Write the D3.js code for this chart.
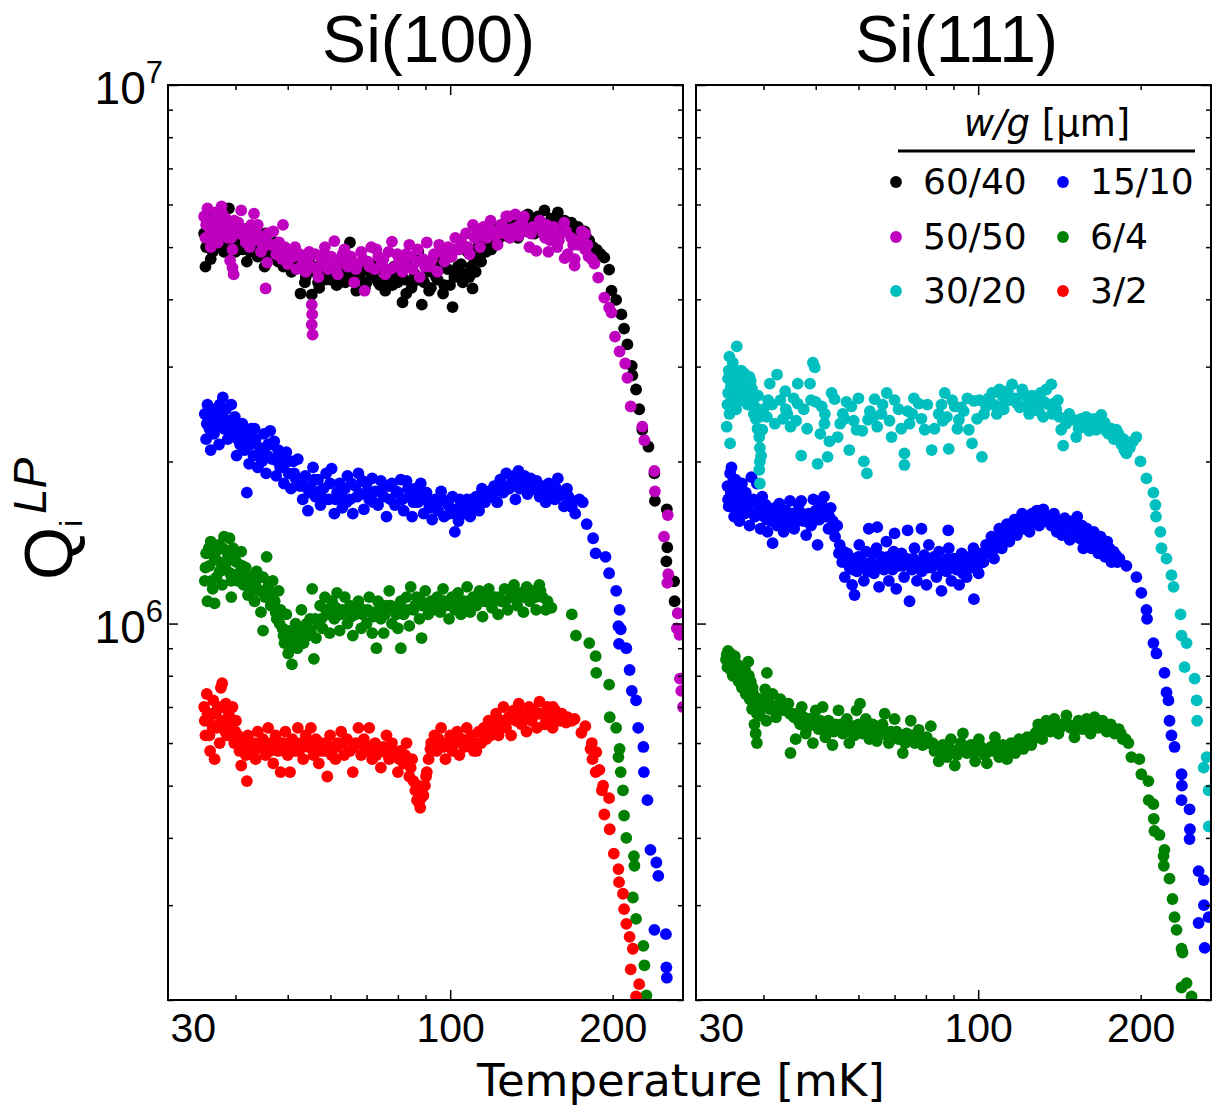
<!DOCTYPE html>
<html>
<head>
<meta charset="utf-8">
<script src="https://cdn.jsdelivr.net/npm/d3@7"></script>
<style>
  html, body { margin: 0; padding: 0; background: #fff; }
  svg { display: block; }
</style>
</head>
<body>
<svg id="chart" width="1215" height="1109"></svg>
<script>
// Internal quality factor Qi (low power) vs temperature, in units of 10^6.
// Each series: [temperature in mK, Qi / 1e6]

// ---- Si(100) ----
const si100_60_40 = [
  [35.0,5.3],[35.2,4.6],[35.4,5.6],[35.6,5.1],[35.9,5.8],[36.0,4.75],[36.1,5.4],[36.3,4.9],[36.6,5.5],[36.8,5.7],[37.0,5.2],[37.5,5.0],[37.8,5.45],[38.0,5.3],[38.3,5.6],[38.6,5.1],[38.9,5.9],[39.2,5.35],[39.5,5.0],[39.9,5.5],[40.3,5.2],
  [35.3,5.0],[36.4,5.2],[37.2,5.5],[38.1,4.9],[39.0,5.2],[40.0,4.9],[41.0,5.1],[42.0,4.7],[43.8,5.1],[45.3,4.6],[47.3,4.8],[49.0,4.75],[51.0,4.6],
  [40.8,5.3],[41.2,4.95],[41.7,5.4],[42.2,5.1],[42.6,4.9],[43.1,5.25],[43.5,5.0],[44.0,4.8],[44.5,5.15],[45.0,4.95],[45.5,5.3],[46.0,4.75],[46.5,5.0],[47.0,4.85],[47.5,5.1],[48.0,4.7],[48.5,4.9],[49.1,4.6],[49.6,4.95],[50.2,4.75],[50.8,4.5],[51.4,4.85],[52.0,4.65],[52.8,4.1],[55.4,4.08],
  [53.3,4.55],[54.0,4.4],[54.7,4.7],[56.1,4.5],[56.9,4.3],[57.6,4.65],[58.4,4.45],[59.2,4.8],[60.0,4.35],[60.8,4.6],[61.6,4.25],[62.5,4.5],[63.4,4.7],[64.3,4.4],[65.2,5.1],[66.1,4.55],[67.0,4.15],[68.0,4.45],[69.0,4.6],[70.0,4.3],[71.0,4.5],[72.0,4.4],[73.1,4.65],[74.2,4.25],[75.3,4.5],[76.4,4.35],[77.6,4.4],[78.7,4.6],[79.9,4.3],[81.0,4.55],[81.6,3.95],[82.3,4.35],[83.5,4.7],[84.8,4.2],[86.0,4.45],[87.3,4.9],[88.6,3.91],
  [53.8,4.3],[55.9,4.6],[57.2,4.2],[58.8,4.35],[60.4,4.5],[62.0,4.4],[63.9,4.3],[65.7,4.45],[67.5,4.35],[69.5,4.2],[71.5,4.4],[73.6,4.3],[75.8,4.15],[78.1,4.25],[80.4,4.4],[82.9,4.1],[85.4,4.3],[88.0,4.35],[91.4,4.15],[94.1,4.4],[97.0,4.1],[99.9,4.25],[102.5,4.5],[105.5,4.3],[108.5,4.4],[111.5,4.5],[113.4,4.8],
  [89.5,4.3],[90.8,4.5],[92.1,4.2],[93.4,4.6],[94.8,4.35],[96.1,4.7],[97.5,4.25],[98.9,4.55],[100.3,4.8],[101.0,3.87],[101.8,4.4],[103.3,4.6],[104.7,4.65],[106.2,4.45],[107.7,4.9],[109.3,4.6],[110.0,4.19],[110.9,4.75],[112.5,5.0],[114.1,4.7],
  [115.7,5.1],[117.4,5.3],[119.1,4.95],[120.8,5.4],[122.5,5.15],[124.3,5.5],[126.1,5.25],[127.9,5.6],[129.7,5.3],[131.6,5.45],[133.5,5.2],[135.4,5.65],[137.3,5.4],[139.3,5.75],[141.3,5.5],[143.3,5.3],[145.4,5.7],[147.4,5.55],[149.5,5.85],[151.7,5.4],[153.9,5.65],[156.1,5.5],[158.3,5.8],[160.6,5.45],[162.9,5.6],[165.3,5.35],[167.7,5.55],[170.1,5.3],[172.5,5.45],[175.0,5.2],[177.5,5.35],
  [116.5,4.9],[118.2,5.2],[121.5,5.1],[125.0,5.3],[128.8,5.35],[132.5,5.5],[136.4,5.5],[140.3,5.4],[144.3,5.6],[148.5,5.4],[152.8,5.5],[157.2,5.6],[161.8,5.35],[166.5,5.45],[171.3,5.2],[176.2,5.25],[179,5.2],[184,5.0],[190,4.85],
  [181,5.14],[187,4.94],[193,4.78],[197,4.54],[199,4.15],[203,3.99],[207.6,3.75],[210,3.53],[213,3.30],[217,3.01],[217.5,2.89],[221,2.72],[224,2.50],[227,2.29],[233,2.13],[239,1.90],[239.5,1.69],[252,1.63],[252.5,1.385],[251.5,1.305],[260,1.198],[260.5,1.10]
];

const si100_50_50 = [
  [35.0,5.7],[35.2,5.2],[35.5,5.9],[35.7,5.45],[36.0,5.0],[36.2,5.6],[36.5,5.3],[36.8,5.8],[37.1,5.1],[37.4,5.5],[37.7,5.95],[38.0,5.35],[38.4,5.65],[38.7,5.2],[39.1,5.5],[39.5,4.95],[40.0,5.3],
  [39.1,4.72],[39.5,4.58],[39.7,4.45],
  [35.3,5.5],[35.9,5.25],[36.6,5.55],[37.3,5.3],[37.9,5.75],[38.6,5.45],[39.3,5.2],[39.8,5.6],[40.8,5.3],[41.8,5.1],[42.8,5.5],[44.3,5.25],[45.0,5.0],[46.0,5.3],[47.3,5.05],[48.5,4.9],[50.3,4.8],[51.6,5.0],
  [40.5,5.55],[41.0,5.85],[41.5,5.25],[42.0,5.4],[42.5,5.0],[43.0,5.3],[43.3,5.77],[43.5,5.15],[44.0,5.5],[44.6,4.9],[45.2,5.2],[45.5,4.19],[45.8,4.68],[46.4,5.05],[47.0,5.35],[47.6,4.85],[48.2,5.1],[48.8,4.75],[49.0,5.5],[49.4,5.0],[50.0,4.65],[50.6,4.9],[51.2,4.8],[51.9,4.55],[52.6,4.85],
  [53.3,4.75],[54.0,4.5],[54.8,4.9],[55.4,4.6],[55.4,3.91],[55.5,3.75],[55.4,3.59],[55.6,3.44],
  [56.2,4.85],[57.0,4.4],[57.8,4.7],[58.6,5.0],[59.4,4.55],[60.2,4.8],[61.0,5.13],[61.9,4.45],[62.8,4.75],[63.7,4.95],[64.6,4.6],[65.5,4.8],[66.4,4.3],[67.4,4.65],[68.4,4.9],[69.4,4.15],[70.4,4.7],[71.4,5.0],[72.5,4.55],[73.6,4.8],[74.7,4.65],[75.8,4.45],[76.9,4.9],[78.0,5.12],[79.2,4.6],[80.4,4.75],[81.6,4.5],[82.8,4.85],[84.0,5.05],[85.2,4.55],[86.5,4.7],[87.8,4.4],
  [53.0,4.6],[54.4,4.75],[56.6,4.55],[58.2,4.85],[59.8,4.7],[61.5,4.6],[63.2,4.85],[65.0,4.7],[66.9,4.55],[68.9,4.75],[70.9,4.6],[73.0,4.95],[75.2,4.75],[77.5,4.55],[79.8,4.85],[82.2,4.65],[84.6,4.8],[87.1,4.95],[89.8,4.6],[92.6,4.75],[95.4,5.05],[98.3,4.85],[101.4,4.95],[104.6,5.15],[107.8,5.0],[111.0,5.2],
  [89.1,4.75],[90.5,5.1],[91.9,4.6],[93.3,4.85],[94.7,4.5],[96.1,4.9],[97.6,4.7],[99.1,5.0],[100.6,4.8],[102.2,5.2],[103.8,4.95],[105.4,5.05],[107.0,5.3],[108.6,4.85],[110.2,5.5],[111.9,5.4],[113.6,5.0],
  [115.3,5.45],[117.0,5.2],[118.8,5.6],[120.6,5.35],[122.4,5.05],[124.3,5.5],[126.2,5.3],[127.0,5.7],[128.1,5.7],[130.0,5.4],[132.0,5.75],[134.0,5.25],[136.0,5.55],[138.1,5.35],[140.2,5.0],[142.3,5.45],[144.4,4.92],[146.6,5.6],[148.8,5.3],[151.0,5.5],[152.0,4.9],[153.3,5.15],[155.6,5.45],[157.9,5.0],[160.3,5.3],[162.7,5.55],[163.0,4.77],[165.1,4.85],[167.6,5.2],[170.0,4.62],[170.1,4.75],[172.7,5.05],[175.3,5.35],[177.9,4.95],[178.0,5.29],[180.5,4.8],
  [114.4,5.25],[117.8,5.45],[121.5,5.25],[125.2,5.45],[129.0,5.2],[133.0,5.45],[137.0,5.7],[141.2,5.3],[145.5,5.45],[150.0,5.2],[154.5,5.35],[159.0,5.15],[164.0,5.35],[169.0,5.05],[174.0,5.15],[179.5,5.05],[183,4.75],
  [185,4.66],[188,4.39],[193,4.03],[197,3.86],[199,3.78],[202,3.41],[206,3.20],[211,3.04],[213,2.86],[216,2.53],[227,2.32],[229,2.19],[239,1.92],[239.5,1.76],[253,1.59],[249,1.45],[253.5,1.235],[252.5,1.19],[264,1.045],[263,0.98],[266,0.953],[266.5,0.79],[268,0.75],[270,0.70]
];

const si100_15_10 = [
  [35.1,2.45],[35.3,2.2],[35.5,2.55],[35.8,2.3],[36.0,2.1],[36.3,2.4],[36.5,2.25],[36.8,2.5],[37.0,2.35],[37.3,2.15],[37.6,2.45],[37.9,2.63],[38.1,2.3],[38.4,2.5],[38.7,2.2],[39.0,2.38],[39.3,2.55],[39.6,2.25],[39.9,2.42],[40.2,2.05],[40.5,2.3],[40.8,2.15],
  [41.2,2.35],[41.6,2.1],[42.0,1.75],[42.0,2.25],[42.4,1.98],[42.8,2.3],[43.2,2.05],[43.6,2.2],[44.0,1.95],[44.4,2.12],[44.8,2.0],[45.2,2.25],[45.6,1.9],[46.0,2.15],[46.4,2.28],[46.8,2.02],[47.2,2.18],[47.6,1.88],[48.0,2.1],[48.4,1.95],[48.8,2.05],[49.2,1.82],[49.7,2.08],[50.2,1.9],[50.7,1.78],[51.2,2.0],[51.7,1.86],[52.2,2.02],[52.7,1.8],
  [35.4,2.35],[36.1,2.5],[36.7,2.3],[37.4,2.55],[38.0,2.4],[38.9,2.28],[39.7,2.35],[40.4,2.2],[41.4,2.2],[42.6,2.15],[43.4,2.3],[44.2,2.05],[45.0,2.1],[45.9,2.05],[46.9,2.15],[47.9,2.0],[49.0,1.95],[50.0,2.0],[51.4,1.9],[52.4,1.85],
  [53.3,1.7],[53.9,1.88],[54.5,1.62],[55.1,1.8],[55.7,1.95],[56.3,1.72],[56.9,1.85],[57.5,1.66],[58.2,1.78],[58.9,1.9],[59.6,1.7],[60.3,1.94],[61.0,1.6],[61.7,1.75],[62.4,1.82],[63.1,1.64],[63.8,1.78],[64.5,1.88],[65.2,1.7],[66.0,1.6],[66.8,1.8],[67.6,1.9],[68.4,1.74],[69.2,1.63],[70.0,1.82],[70.8,1.7],[71.7,1.86],[72.6,1.76],[73.5,1.66],[74.4,1.84],[75.3,1.72],[76.2,1.58],[77.1,1.8],
  [53.6,1.8],[54.8,1.75],[56.0,1.85],[57.2,1.76],[58.5,1.7],[59.9,1.82],[61.3,1.7],[62.8,1.74],[64.2,1.68],[65.6,1.82],[67.2,1.72],[68.8,1.84],[70.4,1.76],[72.1,1.68],[73.9,1.76],[75.7,1.8],[77.5,1.7],
  [78.0,1.82],[79.0,1.66],[80.0,1.75],[81.0,1.85],[82.0,1.62],[83.0,1.84],[84.0,1.72],[85.0,1.58],[86.0,1.78],[87.1,1.68],[88.2,1.82],[89.3,1.6],[90.4,1.75],[91.5,1.65],[92.6,1.56],[93.8,1.7],[95.0,1.62],[96.2,1.76],[97.4,1.58],[98.6,1.68],[99.8,1.6],[101.0,1.72],[102.0,1.48],[102.3,1.63],[103.6,1.55],[104.9,1.67],[106.2,1.6],[107.5,1.7],[108.9,1.58],[110.3,1.65],[111.7,1.72],[113.1,1.62],[114.5,1.78],[116.0,1.68],[117.5,1.75],
  [79.5,1.76],[81.5,1.7],[83.5,1.78],[85.5,1.68],[87.6,1.74],[89.8,1.7],[92.0,1.64],[94.4,1.66],[96.8,1.7],[99.2,1.66],[101.7,1.6],[104.2,1.7],[106.8,1.65],[109.5,1.7],[112.4,1.68],[115.2,1.72],[118.2,1.76],
  [119.0,1.72],[120.6,1.8],[122.2,1.68],[123.8,1.85],[125.4,1.75],[127.0,1.9],[128.7,1.78],[130.4,1.84],[132.1,1.7],[133.8,1.92],[135.5,1.82],[137.3,1.88],[139.1,1.74],[140.9,1.86],[142.7,1.78],[144.6,1.84],[146.5,1.72],[148.4,1.8],[150.3,1.68],[152.3,1.82],[154.3,1.75],[156.3,1.7],[158.3,1.86],[160.4,1.73],[162.5,1.65],[164.6,1.78],[166.7,1.7],
  [121.4,1.76],[124.6,1.8],[127.8,1.8],[131.2,1.88],[134.6,1.78],[138.2,1.82],[141.8,1.8],[145.5,1.76],[149.4,1.76],[153.3,1.72],[157.3,1.78],[161.5,1.76],[165.6,1.72],[170.5,1.6],[173.5,1.7],
  [168,1.645],[176,1.68],[179,1.53],[184,1.44],[186,1.35],[194,1.33],[197,1.24],[203,1.15],[206,1.06],[205,0.989],[207,0.976],[205.5,0.917],[212,0.90],[215,0.82],[217,0.75],[221,0.72],[223,0.64],[228,0.59],[228.5,0.53],[232,0.47],[235,0.38],[241,0.36],[243,0.34],[239,0.27],[251,0.265],[251.5,0.23],[252,0.22]
];

const si100_6_4 = [
  [35.1,1.2],[35.3,1.35],[35.5,1.1],[35.8,1.28],[36.0,1.42],[36.3,1.16],[36.6,1.09],[36.6,1.32],[36.9,1.22],[37.2,1.4],[37.5,1.3],[37.8,1.18],[38.1,1.45],[38.4,1.26],[38.7,1.35],[39.0,1.44],[39.3,1.2],[39.6,1.38],[39.3,1.12],[40.2,1.3],[40.6,1.24],[41.0,1.36],[41.4,1.18],[41.8,1.27],[42.2,1.13],[42.6,1.22],
  [35.2,1.27],[35.7,1.38],[36.1,1.2],[36.8,1.36],[37.4,1.25],[37.9,1.38],[38.5,1.3],[39.1,1.24],[39.8,1.32],[40.4,1.2],[41.2,1.28],[42.0,1.22],[42.8,1.15],[43.6,1.18],[44.4,1.22],[45.2,1.15],[46.0,1.12],[46.8,1.14],[47.5,1.05],[48.3,1.0],
  [43.0,1.2],[43.4,1.1],[43.8,1.25],[44.2,1.15],[44.6,1.05],[45.0,0.97],[45.0,1.22],[45.4,1.12],[45.7,1.33],[46.1,1.18],[46.5,1.08],[46.9,1.2],[47.3,1.1],[47.7,1.02],[48.1,1.15],[48.5,1.06],
  [48.9,0.98],[49.3,0.92],[49.7,1.04],[50.1,0.88],[50.5,0.96],[50.9,0.84],[51.3,0.93],[51.7,1.0],[52.1,0.9],[52.6,0.97],[53.0,1.06],[53.5,0.92],[54.5,0.95],[55.0,1.02],[55.5,1.16],[55.9,0.86],[56.4,0.94],[56.9,1.0],
  [49.1,0.95],[49.9,0.97],[50.7,0.92],[51.5,0.96],[52.4,0.94],[53.3,0.98],[54.2,1.0],[55.2,0.97],[56.2,1.02],
  [57.4,1.08],[58.0,0.98],[58.6,1.12],[59.2,1.04],[59.8,0.96],[60.4,1.1],[61.0,1.02],[61.7,1.14],[62.4,0.97],[63.1,1.06],[63.8,1.12],[64.5,1.0],[65.2,1.08],[66.0,0.95],[66.8,1.04],[67.6,1.1],[68.4,0.98],[69.2,1.06],[70.0,1.0],[70.8,1.12],[71.7,0.96],[72.6,1.05],[73.0,0.9],[73.5,1.1],[74.4,1.02],[75.3,0.96],[76.2,1.08],[77.1,1.15],[78.0,1.0],[79.0,1.06],[80.0,0.98],[81.0,0.9],[81.0,1.1],[82.0,1.04],[83.0,1.12],[84.0,0.99],[84.5,1.17],
  [57.7,1.02],[58.9,1.06],[60.1,1.04],[61.4,1.07],[62.7,1.04],[64.1,1.06],[65.6,1.03],[67.2,1.07],[68.8,1.04],[70.4,1.06],[72.1,1.03],[73.9,1.06],[75.7,1.04],[77.6,1.08],[79.5,1.04],[81.5,1.06],[83.5,1.06],
  [85.5,1.06],[86.6,1.12],[87.7,1.02],[88.5,0.94],[88.8,1.08],[89.9,1.15],[91.0,1.04],[92.2,1.1],[94.6,1.12],[95.8,1.05],[97.0,1.16],[98.2,1.08],[99.5,1.02],[100.8,1.12],[102.1,1.06],[103.4,1.14],[104.7,1.04],[106.1,1.1],[107.5,1.17],[108.9,1.05],[110.3,1.12],[111.8,1.08],[113.3,1.15],[114.8,1.03],[116.3,1.1],[117.9,1.16],[119.5,1.07],[121.1,1.12],[122.7,1.04],[124.4,1.1],[126.1,1.16],[127.8,1.06],[129.5,1.12],[131.3,1.18],[133.1,1.08],[134.9,1.14],[136.7,1.05],[138.6,1.17],[140.5,1.1],[142.4,1.15],[144.3,1.06],[146.3,1.18],[148.3,1.12],[150.3,1.06],
  [86.1,1.08],[88.3,1.1],[90.5,1.08],[92.8,1.06],[95.2,1.1],[97.6,1.1],[100.2,1.08],[102.8,1.1],[105.4,1.08],[108.2,1.1],[111.0,1.1],[113.9,1.1],[116.9,1.12],[120.0,1.1],[123.2,1.12],[126.5,1.1],[129.8,1.14],[133.3,1.12],[136.8,1.12],[140.4,1.14],[144.0,1.12],[147.0,1.15],[151.5,1.1],
  [154,1.07],[168,1.04],[171,0.95],[181,0.92],[186,0.87],[186.5,0.81],[197,0.77],[197.5,0.67],[203,0.64],[206,0.585],[205,0.565],[207,0.53],[209,0.49],[210,0.44],[212,0.40],[219,0.37],[219.5,0.355],[218,0.31],[221,0.283],[228,0.252],[229,0.232],[231,0.204]
];

const si100_3_2 = [
  [35.0,0.70],[35.2,0.62],[35.4,0.74],[35.7,0.66],[35.9,0.58],[36.2,0.68],[36.4,0.72],[36.6,0.56],[36.9,0.64],[37.1,0.70],[37.4,0.60],[37.6,0.76],[37.8,0.775],[38.1,0.66],[38.4,0.71],[38.6,0.62],[38.9,0.68],[39.2,0.64],[39.5,0.70],[39.8,0.60],[40.1,0.66],[40.4,0.62],[40.7,0.58],[41.0,0.545],
  [35.1,0.66],[35.5,0.68],[35.8,0.62],[36.3,0.64],[36.8,0.68],[37.3,0.65],[37.9,0.70],[38.3,0.63],[38.8,0.66],[39.4,0.62],[40.0,0.63],[40.6,0.60],
  [41.4,0.60],[41.8,0.57],[42.0,0.51],[42.2,0.62],[42.7,0.58],[43.1,0.60],[43.6,0.56],[44.0,0.63],[44.5,0.59],[45.0,0.61],[45.5,0.57],[46.0,0.64],[46.5,0.60],[47.0,0.55],[47.5,0.62],[48.0,0.58],[48.5,0.53],[49.0,0.60],[49.5,0.63],[50.0,0.57],[50.5,0.53],[51.0,0.61],[51.6,0.58],[52.2,0.64],[52.8,0.60],[53.4,0.56],[54.0,0.62],[54.6,0.59],[55.2,0.64],[55.8,0.57],[56.4,0.61],[57.1,0.55],[57.8,0.60],[58.5,0.58],[59.2,0.52],[59.9,0.62],[60.6,0.59],[61.3,0.56],[62.0,0.60],[62.8,0.63],[63.6,0.57],[64.4,0.61],[65.2,0.58],[66.0,0.53],[66.8,0.60],[67.6,0.64],[68.4,0.57],[69.2,0.61],[70.0,0.59],[70.8,0.64],[71.7,0.56],[72.6,0.60],[73.5,0.58],[74.4,0.54],[75.3,0.59],[76.2,0.62],[77.1,0.56],[78.0,0.60],[79.0,0.57],[80.0,0.53],[81.0,0.58],[82.0,0.55],[83.0,0.60],[84.0,0.52],[85.0,0.56],
  [41.6,0.59],[42.5,0.60],[43.4,0.58],[44.3,0.60],[45.3,0.59],[46.3,0.58],[47.3,0.60],[48.3,0.60],[49.3,0.58],[50.3,0.60],[51.3,0.59],[52.5,0.58],[53.7,0.60],[55.0,0.60],[56.1,0.59],[57.5,0.58],[58.9,0.60],[60.3,0.57],[61.7,0.59],[63.2,0.60],[64.8,0.58],[66.4,0.59],[68.0,0.60],[69.7,0.58],[71.3,0.59],[73.0,0.57],[74.9,0.58],[76.7,0.57],[78.5,0.58],[80.5,0.56],[82.5,0.57],[84.5,0.54],
  [85.5,0.51],[86.2,0.49],[86.8,0.47],[87.5,0.465],[88.0,0.455],[88.5,0.475],[89.2,0.48],[89.8,0.50],[90.5,0.53],[91.2,0.56],[91.9,0.585],[87.2,0.50],[90.2,0.52],
  [92.6,0.60],[93.5,0.62],[94.4,0.58],[95.3,0.61],[96.2,0.64],[97.1,0.59],[98.0,0.56],[99.0,0.60],[100.0,0.62],[101.0,0.58],[102.0,0.60],[103.0,0.63],[104.0,0.57],[105.1,0.61],[106.2,0.59],[107.3,0.64],[108.4,0.60],[109.5,0.62],[110.6,0.58],[111.8,0.58],[113.0,0.63],[114.2,0.60],[115.4,0.64],[116.6,0.61],[117.8,0.66],[119.0,0.62],
  [92.2,0.60],[93.9,0.60],[96.7,0.60],[99.5,0.60],[102.5,0.61],[105.6,0.60],[108.9,0.61],[112.4,0.60],[115.9,0.62],[119.6,0.64],
  [120.3,0.65],[121.6,0.68],[122.9,0.62],[124.2,0.66],[125.5,0.70],[126.9,0.64],[128.3,0.67],[129.7,0.62],[131.1,0.69],[132.5,0.66],[134.0,0.71],[135.5,0.65],[137.0,0.68],[138.5,0.63],[140.0,0.70],[141.6,0.66],[143.2,0.69],[144.8,0.64],[146.4,0.716],[148.0,0.68],[149.7,0.65],[151.4,0.70],[153.1,0.67],[154.8,0.64],[156.5,0.69],[158.2,0.68],[160.0,0.66],[162.0,0.67],[164.0,0.655],[166.0,0.665],
  [123.5,0.64],[127.5,0.66],[131.6,0.67],[135.8,0.68],[140.8,0.67],[145.6,0.68],[150.5,0.67],[155.6,0.67],[161,0.68],[165,0.67],[168,0.66],
  [155,0.70],[170,0.665],[175,0.627],[178,0.645],[182,0.585],[183,0.60],[183.5,0.56],[186,0.53],[186.5,0.577],[189,0.535],[191,0.49],[192,0.50],[193,0.442],[197,0.474],[197.5,0.415],[201,0.374],[205,0.35],[205.5,0.331],[209,0.315],[210,0.295],[212,0.277],[215,0.262],[218,0.249],[216,0.228],[224,0.214],[221,0.203]
];

// ---- Si(111) ----
const si111_30_20 = [
  [34.2,2.32],[34.7,2.16],[34.6,2.45],[34.4,2.68],[34.4,2.85],[34.6,3.13],[35.7,3.27],[35.4,2.96],[36.2,2.79],[36.9,2.91],[37.7,2.87],[38.1,2.73],[38.5,2.53],[39.4,2.42],[39.8,2.29],[39.4,2.12],[39.4,2.00],[39.3,1.93],[39.4,1.82],[38.9,2.50],
  [35.0,2.6],[35.2,2.88],[35.6,2.5],[36.0,2.7],[36.4,2.95],[36.6,2.6],[37.0,2.75],[37.4,2.55],[37.9,2.82],[38.3,2.62],[38.7,2.4],[39.1,2.65],
  [34.3,2.55],[34.5,2.95],[34.8,2.75],[35.1,3.05],[35.8,2.85],[36.3,2.6],[37.1,2.65],[37.8,2.6],[38.4,2.45],[39.0,2.3],[39.3,2.22],[39.6,2.05],[40.0,2.5],[40.8,2.6],
  [40.6,2.42],[41.1,2.79],[42.4,2.90],[43.9,2.70],[44.3,2.45],[44.9,2.32],[46.3,2.79],[46.3,2.56],[47.0,2.05],[48.8,2.79],[49.4,3.05],[49.8,2.99],[50.4,1.98],[51.3,2.53],[51.9,2.35],[52.6,2.04],[54.2,2.61],[54.9,2.22],[56.1,2.45],[57.7,2.10],[58.2,2.53],[59.5,2.29],[61.4,2.00],[62.2,1.90],[62.5,2.39],
  [41.5,2.55],[42.0,2.35],[43.0,2.6],[43.5,2.4],[44.0,2.5],[45.5,2.62],[46.0,2.38],[47.5,2.5],[48.2,2.3],[49.0,2.6],[50.0,2.58],[51.0,2.25],[52.0,2.45],[53.0,2.18],[53.5,2.68],[55.5,2.35],[56.5,2.4],[57.0,2.58],[58.8,2.38],[60.0,2.62],[61.0,2.28],
  [64.3,2.61],[66.2,2.45],[67.7,2.68],[69.1,2.22],[71.2,2.50],[73.0,2.07],[73.0,1.97],[74.6,2.35],[77.6,2.56],[79.6,2.29],[82.0,2.10],[84.5,2.45],[86.7,2.68],[88.2,2.11],[90.5,2.53],[92.1,2.39],[96.1,2.29],[97.4,2.16],[98.2,2.59],
  [63.0,2.48],[64.0,2.42],[65.0,2.32],[66.5,2.55],[68.5,2.38],[70.0,2.6],[72.0,2.3],[74.0,2.48],[75.5,2.45],[76.0,2.62],[78.5,2.4],[80.5,2.55],[83.0,2.3],[85.5,2.55],[86.0,2.38],[87.5,2.42],[89.5,2.6],[91.5,2.3],[93.0,2.52],[94.0,2.48],[95.5,2.62],[99.5,2.4],
  [101.6,2.04],[103.4,2.53],[106.1,2.68],[108.3,2.45],[110.7,2.65],[115.6,2.78],[118.1,2.56],[120.7,2.72],[124.3,2.45],[125.9,2.65],[131.9,2.42],[133.7,2.72],[136.6,2.78],[137.7,2.56],[141.3,2.42],[142.5,2.29],[143.7,2.14],
  [100.5,2.6],[102.5,2.45],[104.5,2.62],[107.0,2.55],[109.5,2.72],[111.5,2.5],[112.0,2.58],[113.5,2.7],[115.0,2.6],[117.0,2.62],[119.5,2.52],[122.0,2.66],[123.0,2.55],[125.0,2.5],[127.5,2.58],[129.5,2.48],[130.5,2.68],[132.5,2.58],[135.0,2.55],[137.0,2.45],[139.5,2.5],[140.5,2.6],
  [150.0,2.39],[151.9,2.22],[156.6,2.32],[162.0,2.39],[165.5,2.29],[169.1,2.44],[174.3,2.25],[180.3,2.29],[184.3,2.15],[188.2,2.07],[196.4,2.22],
  [145.5,2.35],[147.5,2.45],[153.5,2.3],[155.0,2.4],[158.5,2.42],[160.5,2.28],[161.0,2.33],[164.0,2.4],[167.5,2.32],[171.5,2.36],[172.5,2.28],[176.5,2.3],[178.5,2.2],[182.0,2.25],[186.0,2.2],[186.5,2.1],[191.0,2.12],[193.5,2.18],
  [199.8,2.00],[205.0,1.86],[211.2,1.75],[213.0,1.66],[213.5,1.58],[217.6,1.48],[218.6,1.38],[223.3,1.32],[228.1,1.23],[230.1,1.17],[237.1,1.04],[238.1,0.95],[243.3,0.92],[241.2,0.83],[251.8,0.79],[254.0,0.72],[254.5,0.66],[265.0,0.565],[261.7,0.54],[267.3,0.49],[267.5,0.42]
];

const si111_15_10 = [
  [34.3,1.8],[34.5,1.65],[34.7,1.9],[34.9,1.95],[35.1,1.72],[35.3,1.58],[35.5,1.85],[35.7,1.68],[35.9,1.78],[36.1,1.55],[36.3,1.62],[36.5,1.82],[36.7,1.7],[36.9,1.6],[37.1,1.75],
  [34.4,1.7],[34.8,1.75],[35.2,1.85],[35.6,1.62],[36.0,1.7],[36.4,1.72],[36.8,1.65],[37.2,1.62],[37.6,1.7],[38.2,1.6],[38.8,1.68],[39.4,1.6],[40.0,1.64],[40.6,1.56],[41.4,1.62],[42.2,1.58],[43.0,1.6],[43.8,1.55],[44.6,1.58],[45.4,1.6],[46.3,1.55],[47.2,1.6],[48.2,1.56],[49.2,1.6],[50.2,1.56],[51.0,1.6],[52.0,1.62],[53.0,1.58],[54.0,1.5],
  [37.4,1.65],[37.7,1.52],[38.0,1.87],[38.3,1.7],[38.6,1.58],[38.9,1.82],[39.2,1.62],[39.5,1.5],[39.8,1.72],[40.1,1.58],[40.4,1.66],[40.7,1.48],[41.0,1.6],[41.3,1.55],[41.6,1.41],[42.0,1.64],[42.4,1.52],[42.8,1.67],[43.2,1.58],[43.6,1.48],[44.0,1.62],[44.4,1.54],[44.8,1.69],[45.2,1.6],[45.6,1.5],[46.0,1.58],[46.5,1.66],[47.0,1.69],[47.5,1.55],[48.0,1.46],[48.5,1.6],[49.0,1.52],[49.5,1.7],[50.0,1.62],[50.4,1.40],[50.8,1.56],[51.3,1.66],[51.8,1.72],[52.3,1.58],[52.8,1.5],[53.3,1.64],[53.8,1.55],[54.3,1.45],[54.8,1.52],
  [55.4,1.4],[56.0,1.3],[56.6,1.22],[57.2,1.35],[57.8,1.27],[58.4,1.18],[59.0,1.13],[59.0,1.32],[59.6,1.25],[60.2,1.4],[60.8,1.28],[61.4,1.2],[62.0,1.36],[62.7,1.5],[63.4,1.3],[64.1,1.24],[64.8,1.38],[65.0,1.51],[65.5,1.17],[66.2,1.33],[66.9,1.26],[67.6,1.42],[68.3,1.2],[69.0,1.3],[69.7,1.36],[70.0,1.47],[70.5,1.16],[71.3,1.28],[72.1,1.35],[72.9,1.22],[73.7,1.32],[74.0,1.49],[74.6,1.10],[75.4,1.26],[76.2,1.38],[77.0,1.2],[77.8,1.3],[78.5,1.5],[78.6,1.25],[79.4,1.34],[80.2,1.18],[81.0,1.4],[81.9,1.27],[82.8,1.33],[83.7,1.22],[84.6,1.36],[85.5,1.15],[86.4,1.3],[87.3,1.25],[88.0,1.49],[88.2,1.38],[89.2,1.2],[90.2,1.32],[91.2,1.26],[92.2,1.18],[93.2,1.35],[94.2,1.28],[95.2,1.22],[96.2,1.33],[97.2,1.27],[98.0,1.38],[98.2,1.11],[99.2,1.3],[100.2,1.24],[101.2,1.35],
  [55.2,1.35],[56.3,1.36],[57.5,1.3],[58.7,1.26],[60.0,1.33],[61.2,1.3],[62.4,1.25],[63.8,1.35],[65.2,1.28],[66.6,1.3],[68.0,1.33],[69.4,1.26],[70.8,1.32],[72.5,1.28],[74.2,1.3],[75.8,1.32],[77.4,1.28],[79.0,1.3],[80.6,1.27],[82.4,1.3],[84.2,1.3],[86.0,1.26],[87.8,1.32],[89.7,1.28],[91.7,1.3],[93.7,1.24],[95.7,1.3],[97.7,1.32],[99.7,1.28],[101.7,1.3],
  [102.2,1.3],[103.4,1.4],[104.6,1.36],[105.8,1.45],[107.0,1.32],[108.2,1.42],[109.4,1.5],[110.6,1.38],[111.8,1.47],[113.0,1.53],[114.2,1.42],[115.4,1.5],[116.7,1.56],[118.0,1.46],[119.3,1.54],[120.6,1.6],[121.9,1.5],[123.2,1.57],[124.5,1.48],[125.8,1.6],[127.1,1.54],[128.4,1.62],[129.7,1.52],[131.0,1.58],[132.0,1.63],[133.4,1.55],
  [103.0,1.35],[105.2,1.4],[107.6,1.38],[110.0,1.44],[112.4,1.42],[114.8,1.48],[117.3,1.5],[119.9,1.5],[122.5,1.54],[125.1,1.55],[127.8,1.58],[130.4,1.56],[133.0,1.58],
  [135.0,1.58],[136.6,1.52],[138.2,1.6],[139.8,1.48],[141.4,1.55],[143.0,1.46],[144.6,1.57],[146.2,1.5],[147.8,1.43],[149.4,1.55],[151.0,1.48],[152.6,1.58],[154.2,1.44],[155.8,1.52],[156.6,1.38],[157.4,1.4],[159.0,1.5],[160.6,1.46],[162.2,1.38],[163.8,1.48],[165.4,1.42],[167.0,1.35],[168.6,1.45],[170.2,1.4],[171.8,1.33],[173.4,1.42],[175.0,1.38],[176.6,1.3],[178.2,1.36],[180.0,1.34],
  [136.0,1.55],[139.0,1.53],[142.2,1.52],[145.4,1.52],[148.6,1.5],[151.8,1.5],[155.0,1.48],[158.2,1.46],[161.4,1.44],[164.6,1.44],[168.0,1.4],[171.0,1.38],[174.2,1.37],[177.4,1.34],[181.0,1.3],
  [182.7,1.32],[188.2,1.28],[196.4,1.22],[200.6,1.14],[205.0,1.06],[205.5,1.02],[211.2,0.92],[213.9,0.88],[221.4,0.81],[223.3,0.745],[225.2,0.72],[226.2,0.66],[228.1,0.62],[231.1,0.59],[238.1,0.525],[238.5,0.50],[238.1,0.47],[246.4,0.452],[246.8,0.415],[246.4,0.398],[256.1,0.347],[261.7,0.334],[262.0,0.30],[267.3,0.285],[256.1,0.278],[262.8,0.25]
];

const si111_6_4 = [
  [34.1,0.858],[34.4,0.89],[34.6,0.84],[34.9,0.865],[35.2,0.815],[35.5,0.84],[35.9,0.79],[36.2,0.82],[36.6,0.775],[36.9,0.80],[37.2,0.755],[37.5,0.85],[37.7,0.724],[37.9,0.78],[38.1,0.694],[38.3,0.74],[38.5,0.65],[38.7,0.625],[38.9,0.60],[38.8,0.71],
  [34.2,0.875],[34.3,0.83],[34.5,0.86],[34.7,0.88],[34.8,0.82],[35.0,0.85],[35.1,0.80],[35.3,0.835],[35.4,0.87],[35.6,0.81],[35.8,0.84],[36.0,0.78],[36.1,0.81],[36.4,0.80],[36.5,0.76],[36.8,0.78],[37.0,0.82],[37.1,0.74],[37.4,0.77],[37.6,0.80],[37.8,0.75],[38.0,0.72],[38.2,0.76],[38.4,0.70],[38.6,0.73],[38.9,0.68],[39.1,0.70],
  [39.4,0.724],[40.3,0.755],[40.6,0.81],[41.1,0.694],[41.6,0.74],[42.2,0.67],[43.0,0.724],[43.7,0.69],[44.5,0.71],[39.4,0.675],[40.5,0.66],[44.9,0.575],
  [39.7,0.70],[40.0,0.72],[40.8,0.72],[41.4,0.705],[42.0,0.70],[42.6,0.69],[43.3,0.70],[44.0,0.70],[44.8,0.68],
  [45.3,0.68],[45.9,0.61],[46.5,0.66],[47.1,0.70],[47.9,0.625],[48.6,0.665],[49.4,0.60],[50.0,0.69],[50.6,0.637],[51.5,0.70],[52.1,0.615],[52.8,0.66],[53.7,0.595],[54.4,0.65],[55.1,0.69],[56.1,0.625],[57.1,0.665],[57.7,0.60],[58.5,0.645],[59.5,0.69],[60.4,0.71],[61.1,0.625],[61.9,0.665],[62.9,0.61],[63.8,0.65],[64.9,0.605],[65.9,0.637],[67.1,0.68],[68.3,0.60],[68.8,0.63],[70.0,0.665],[71.2,0.61],[72.5,0.575],[73.7,0.625],[75.0,0.66],[76.3,0.60],[77.6,0.635],[78.9,0.595],[80.3,0.615],[81.7,0.645],
  [45.6,0.67],[46.2,0.68],[46.8,0.65],[47.5,0.67],[48.2,0.64],[49.0,0.66],[49.7,0.65],[50.3,0.66],[51.0,0.66],[51.8,0.65],[52.5,0.64],[53.3,0.65],[54.0,0.63],[54.8,0.64],[55.6,0.65],[56.6,0.64],[57.4,0.63],[58.2,0.64],[59.0,0.62],[60.0,0.65],[60.8,0.64],[61.5,0.64],[62.4,0.63],[63.4,0.63],[64.4,0.62],[65.4,0.63],[66.5,0.65],[67.7,0.62],[69.4,0.62],[70.6,0.63],[72.0,0.62],[73.2,0.60],[74.3,0.61],[75.6,0.62],[77.0,0.61],[78.3,0.61],[79.6,0.60],[81.0,0.60],[82.3,0.60],
  [83.0,0.58],[84.5,0.555],[86.0,0.595],[87.5,0.565],[89.0,0.61],[90.5,0.545],[92.1,0.585],[93.7,0.625],[95.3,0.575],[97.0,0.595],[98.7,0.555],[100.3,0.61],[102.0,0.58],[103.8,0.55],[105.6,0.59],[107.4,0.615],[109.3,0.565],[111.2,0.595],[113.1,0.56],[115.1,0.60],[117.1,0.575],[119.1,0.61],[121.2,0.585],[123.3,0.615],[125.4,0.595],
  [83.7,0.59],[85.2,0.58],[86.7,0.58],[88.2,0.59],[89.8,0.58],[91.3,0.57],[92.9,0.60],[94.5,0.59],[96.2,0.58],[97.8,0.58],[99.5,0.58],[101.2,0.59],[102.9,0.57],[104.7,0.58],[106.5,0.58],[108.4,0.59],[110.3,0.58],[112.2,0.58],[114.1,0.58],[116.1,0.59],[118.1,0.59],[120.2,0.60],[122.2,0.60],[124.3,0.61],[126.5,0.61],
  [127.6,0.625],[129.2,0.65],[131.4,0.61],[133.7,0.66],[136.0,0.63],[138.4,0.665],[140.8,0.625],[143.2,0.65],[145.7,0.675],[148.2,0.64],[150.8,0.615],[153.4,0.66],[156.1,0.637],[158.8,0.665],[161.5,0.625],[164.3,0.67],[167.1,0.64],[170.0,0.66],[173.0,0.63],[176.0,0.65],[179.0,0.625],[182.1,0.637],[185.3,0.61],
  [128.4,0.63],[130.3,0.63],[132.5,0.64],[134.8,0.64],[137.2,0.64],[139.6,0.64],[142.0,0.64],[144.5,0.65],[147.0,0.65],[149.5,0.64],[152.0,0.64],[154.8,0.65],[157.5,0.65],[160.1,0.645],[162.9,0.65],[165.7,0.655],[168.5,0.65],[171.5,0.645],[174.5,0.64],[177.5,0.64],[180.6,0.63],[183.7,0.625],[187.5,0.61],
  [189.8,0.60],[192.2,0.565],[198.9,0.56],[200.6,0.525],[206.7,0.51],[207.0,0.47],[211.2,0.462],[211.5,0.434],[212.1,0.412],[216.7,0.405],[221.4,0.38],[220.5,0.37],[220.8,0.355],[226.2,0.336],[229.1,0.308],[231.1,0.285],[233.1,0.27],[238.1,0.249],[239.1,0.245],[243.3,0.215],[238.1,0.211],[248.5,0.203]
];

// Tick values
const xMajorTicks = [100];
const xMinorTicks = [40, 50, 60, 70, 80, 90, 200];
const xTickLabels = [30, 100, 200];
const yMajorTicks = [1e6, 1e7];
const yMinorTicks = [2e5,3e5,4e5,5e5,6e5,7e5,8e5,9e5,2e6,3e6,4e6,5e6,6e6,7e6,8e6,9e6];
const yTickLabels = [[1e6, "6"], [1e7, "7"]];

const QUNIT = 1e6;

// Legend (column-major, two columns)
const legendLabels = ["60/40", "50/50", "30/20", "15/10", "6/4", "3/2"];
const legendColors = ["#000000", "#bf00bf", "#00bfbf", "#0000ff", "#008000", "#ff0000"];

const panels = [
  { title: "Si(100)", x0: 168, x1: 683, showYLabels: true,
    series: [[si100_60_40, "#000000"], [si100_50_50, "#bf00bf"], [si100_15_10, "#0000ff"], [si100_6_4, "#008000"], [si100_3_2, "#ff0000"]] },
  { title: "Si(111)", x0: 696, x1: 1211, showYLabels: false,
    series: [[si111_15_10, "#0000ff"], [si111_30_20, "#00bfbf"], [si111_6_4, "#008000"]] }
];

const TOP = 85, BOTTOM = 1000;
const R = 5.9;
const SANS = "'Liberation Sans', Arial, sans-serif";
const DEJAVU = "'DejaVu Sans', sans-serif";

const svg = d3.select("#chart");
svg.append("rect").attr("width", 1215).attr("height", 1109).attr("fill", "#fff");

const y = d3.scaleLog().domain([2e5, 1e7]).range([BOTTOM, TOP]);

function styleTicks(g) {
  g.select(".domain").remove();
  g.selectAll(".tick line").attr("stroke", "#000").attr("stroke-width", 1.5);
  g.selectAll(".tick text").remove();
}

panels.forEach((p, pi) => {
  const x = d3.scaleLog().domain([30, 270]).range([p.x0, p.x1]);
  const clipId = "clip" + pi;
  svg.append("clipPath").attr("id", clipId)
    .append("rect").attr("x", p.x0).attr("y", TOP).attr("width", p.x1 - p.x0).attr("height", BOTTOM - TOP);

  const plot = svg.append("g").attr("clip-path", `url(#${clipId})`);
  p.series.forEach(([data, color]) => {
    plot.append("g").selectAll("circle").data(data).join("circle")
      .attr("cx", d => x(d[0]))
      .attr("cy", d => y(d[1] * QUNIT))
      .attr("r", R)
      .attr("fill", color);
  });

  // inward ticks on all four sides
  [[d3.axisBottom, BOTTOM], [d3.axisTop, TOP]].forEach(([ax, ty]) => {
    svg.append("g").attr("transform", `translate(0,${ty})`)
      .call(ax(x).tickValues(xMajorTicks).tickSize(-10).tickFormat("")).call(styleTicks);
    svg.append("g").attr("transform", `translate(0,${ty})`)
      .call(ax(x).tickValues(xMinorTicks).tickSize(-5).tickFormat("")).call(styleTicks);
  });
  [[d3.axisLeft, p.x0], [d3.axisRight, p.x1]].forEach(([ax, tx]) => {
    svg.append("g").attr("transform", `translate(${tx},0)`)
      .call(ax(y).tickValues(yMajorTicks).tickSize(-10).tickFormat("")).call(styleTicks);
    svg.append("g").attr("transform", `translate(${tx},0)`)
      .call(ax(y).tickValues(yMinorTicks).tickSize(-5).tickFormat("")).call(styleTicks);
  });

  // x tick labels
  const xl = svg.append("g").attr("transform", `translate(0,${BOTTOM})`)
    .call(d3.axisBottom(x).tickValues(xTickLabels).tickSize(0).tickFormat(d3.format("d")));
  xl.select(".domain").remove();
  xl.selectAll(".tick text")
    .attr("y", 42).attr("dy", 0)
    .attr("font-family", SANS).attr("font-size", 41).attr("fill", "#000")
    .attr("text-anchor", d => d === 30 ? "start" : "middle")
    .attr("x", d => d === 30 ? 2 : 0);

  // y tick labels (powers of ten)
  if (p.showYLabels) {
    yTickLabels.forEach(([v, ex]) => {
      const t = svg.append("text")
        .attr("x", p.x0 - 5).attr("y", y(v) + 19)
        .attr("text-anchor", "end")
        .attr("font-family", SANS).attr("font-size", 46).attr("fill", "#000");
      t.append("tspan").text("10");
      t.append("tspan").attr("dy", -21).attr("font-size", 31).text(ex);
    });
  }

  // frame
  svg.append("rect").attr("x", p.x0).attr("y", TOP)
    .attr("width", p.x1 - p.x0).attr("height", BOTTOM - TOP)
    .attr("fill", "none").attr("stroke", "#000").attr("stroke-width", 2);

  // panel title
  svg.append("text").attr("x", (p.x0 + p.x1) / 2 + 3).attr("y", 62)
    .attr("text-anchor", "middle")
    .attr("font-family", SANS).attr("font-size", 66).attr("fill", "#000")
    .text(p.title);
});

// x axis title
svg.append("text").attr("x", 681).attr("y", 1096)
  .attr("text-anchor", "middle")
  .attr("font-family", DEJAVU).attr("font-size", 45).attr("fill", "#000")
  .text("Temperature [mK]");

// y axis title: Q_i^LP
svg.append("text").attr("transform", "translate(72,580) rotate(-90)")
  .attr("font-family", SANS).attr("font-size", 68).attr("fill", "#000").text("Q");
svg.append("text").attr("transform", "translate(82,527) rotate(-90)")
  .attr("font-family", SANS).attr("font-size", 32).attr("fill", "#000").text("i");
svg.append("text").attr("transform", "translate(46,514) rotate(-90)")
  .attr("font-family", SANS).attr("font-style", "italic").attr("font-size", 46).attr("fill", "#000").text("LP");

// legend
const lg = svg.append("g");
const lt = lg.append("text").attr("x", 1047).attr("y", 136)
  .attr("text-anchor", "middle")
  .attr("font-family", DEJAVU).attr("font-size", 37).attr("fill", "#000");
lt.append("tspan").attr("font-style", "italic").text("w/g");
lt.append("tspan").text(" [\u03bcm]");
lg.append("line").attr("x1", 898).attr("x2", 1195).attr("y1", 151).attr("y2", 151)
  .attr("stroke", "#000").attr("stroke-width", 3);

const colX = [896, 1063];
const rowY = [182, 237, 291];
legendLabels.forEach((lab, i) => {
  const cx = colX[Math.floor(i / 3)], cy = rowY[i % 3];
  lg.append("circle").attr("cx", cx).attr("cy", cy).attr("r", R).attr("fill", legendColors[i]);
  lg.append("text").attr("x", cx + 27).attr("y", cy + 12)
    .attr("font-family", DEJAVU).attr("font-size", 36).attr("fill", "#000")
    .text(lab);
});
</script>
</body>
</html>
